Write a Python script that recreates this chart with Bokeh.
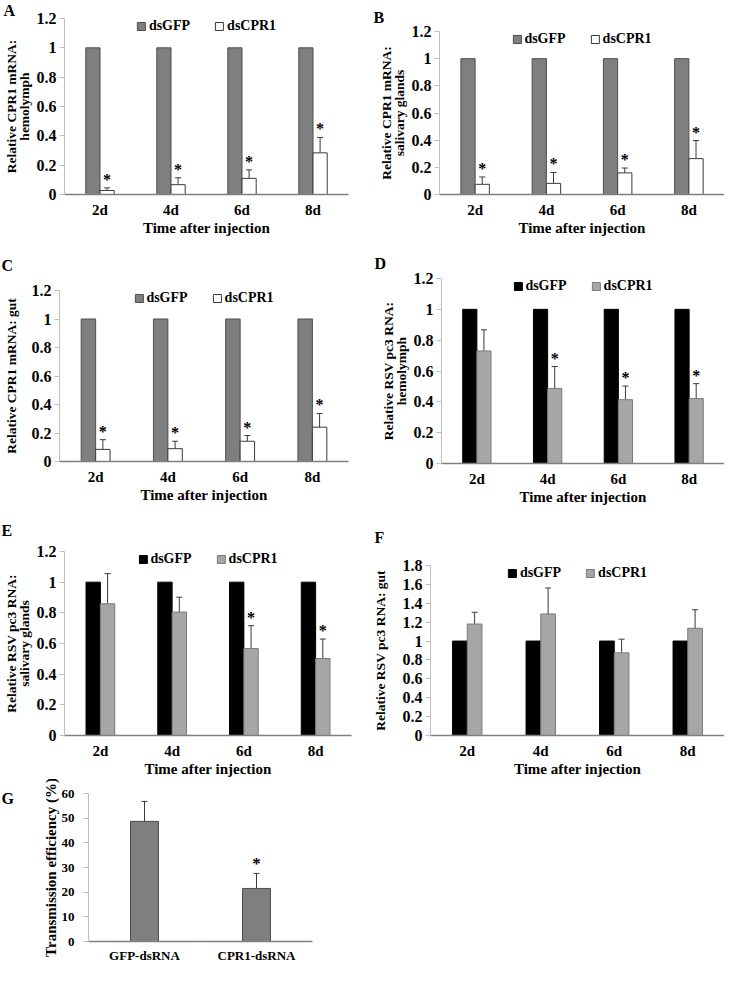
from bokeh.plotting import figure
from bokeh.layouts import column, row
from bokeh.models import (ColumnDataSource, Range1d, FixedTicker,
                          Whisker, Title, CustomJSTickFormatter)
from bokeh.transform import dodge
from bokeh.core.properties import value
from bokeh.embed import file_html
from bokeh.resources import INLINE

# ---------------- data ----------------
days = ["2d", "4d", "6d", "8d"]
series_names = ["dsGFP", "dsCPR1"]
ticks_rel = [0, 0.2, 0.4, 0.6, 0.8, 1, 1.2]
ticks_f = [0, 0.2, 0.4, 0.6, 0.8, 1, 1.2, 1.4, 1.6, 1.8]
ticks_g = [0, 10, 20, 30, 40, 50, 60]

gfp = [1, 1, 1, 1]

A_cpr = [0.027, 0.067, 0.110, 0.284]
A_err = [0.018, 0.047, 0.058, 0.105]
A_sig = ["*", "*", "*", "*"]

B_cpr = [0.075, 0.082, 0.159, 0.264]
B_err = [0.054, 0.080, 0.036, 0.133]
B_sig = ["*", "*", "*", "*"]

C_cpr = [0.085, 0.090, 0.142, 0.241]
C_err = [0.068, 0.052, 0.040, 0.096]
C_sig = ["*", "*", "*", "*"]

D_cpr = [0.730, 0.487, 0.414, 0.421]
D_err = [0.137, 0.142, 0.088, 0.097]
D_sig = ["", "*", "*", "*"]

E_cpr = [0.859, 0.805, 0.567, 0.502]
E_err = [0.197, 0.097, 0.149, 0.127]
E_sig = ["", "", "*", "*"]

F_cpr = [1.180, 1.287, 0.875, 1.135]
F_err = [0.125, 0.275, 0.145, 0.196]
F_sig = ["", "", "", ""]

G_groups = ["GFP-dsRNA", "CPR1-dsRNA"]
G_vals = [48.7, 21.5]
G_err = [8.1, 6.1]
G_sig = ["", "*"]

FONT = "Liberation Serif"
fmt_code = "return String(Math.round(tick*100)/100)"
cat_code = "return labels[Math.floor(tick)]"


def style_axes(p, ticks, cats, tick_size="16px", label_size="13.5px", lab_standoff=2,
               ylab_standoff=3, xlab_size="15px"):
    p.frame_align = False
    p.outline_line_color = None
    p.grid.visible = False
    p.background_fill_color = "white"
    p.border_fill_color = "white"
    ya = p.yaxis[0]
    ya.ticker = FixedTicker(ticks=ticks)
    ya.formatter = CustomJSTickFormatter(code=fmt_code)
    ya.axis_line_color = "#bfbfbf"
    ya.major_tick_line_color = "#bfbfbf"
    ya.minor_tick_line_color = None
    ya.major_tick_out = 5
    ya.major_tick_in = 0
    ya.minor_tick_out = 0
    ya.minor_tick_in = 0
    ya.major_label_standoff = ylab_standoff
    ya.major_label_text_font = FONT
    ya.major_label_text_font_style = "bold"
    ya.major_label_text_font_size = tick_size
    ya.major_label_text_color = "black"
    ya.axis_label_text_font = FONT
    ya.axis_label_text_font_style = "bold"
    ya.axis_label_text_font_size = label_size
    ya.axis_label_text_color = "black"
    ya.axis_label_text_line_height = 0.85
    ya.axis_label_standoff = lab_standoff
    xa = p.xaxis[0]
    xa.ticker = FixedTicker(ticks=[i + 0.5 for i in range(len(cats))])
    xa.formatter = CustomJSTickFormatter(args=dict(labels=cats), code=cat_code)
    xa.axis_line_color = "#7f7f7f"
    xa.axis_line_width = 1.5
    xa.major_tick_line_color = None
    xa.minor_tick_line_color = None
    xa.major_tick_out = 0
    xa.major_tick_in = 0
    xa.minor_tick_out = 0
    xa.minor_tick_in = 0
    xa.major_label_standoff = 7
    xa.major_label_text_font = FONT
    xa.major_label_text_font_style = "bold"
    xa.major_label_text_font_size = xlab_size
    xa.major_label_text_color = "black"
    xa.axis_label_text_font = FONT
    xa.axis_label_text_font_style = "bold"
    xa.axis_label_text_font_size = "15px"
    xa.axis_label_text_color = "black"
    xa.axis_label_standoff = -1


def letter(p, txt, offset, standoff):
    p.title = Title(text=txt, align="left", offset=offset, standoff=standoff,
                    text_font=FONT, text_font_style="bold", text_font_size="16px",
                    text_color="black")


def time_panel(txt, cpr, err, sig, ylabel, ticks, ymax, geom, lpos, dark,
               lab_standoff=2):
    w, h, L, R, T, B = geom
    p = figure(width=w, height=h, x_range=Range1d(0, len(days)),
               y_range=Range1d(0, ymax), output_backend="svg", toolbar_location=None,
               min_border_left=L, min_border_right=R, min_border_top=T,
               min_border_bottom=B)
    src = ColumnDataSource(dict(x=[i + 0.5 for i in range(len(days))], gfp=gfp, cpr=cpr,
                                upper=[c + e for c, e in zip(cpr, err)],
                                lower=[c - e for c, e in zip(cpr, err)],
                                star=sig))
    if dark:
        gfp_fill, gfp_line, cpr_fill, cpr_line = "#000000", "#000000", "#a6a6a6", "#7a7a7a"
    else:
        gfp_fill, gfp_line, cpr_fill, cpr_line = "#7f7f7f", "#4d4d4d", "#ffffff", "#3a3a3a"
    p.vbar(x=dodge("x", -0.1), top="gfp", width=0.2, source=src,
           fill_color=gfp_fill, line_color=gfp_line, line_width=1,
           legend_label=series_names[0])
    p.vbar(x=dodge("x", 0.1), top="cpr", width=0.2, source=src,
           fill_color=cpr_fill, line_color=cpr_line, line_width=1,
           legend_label=series_names[1])
    wh = Whisker(source=src, base=dodge("x", 0.1), upper="upper",
                 lower="lower", line_color="#3a3a3a", line_width=1)
    wh.upper_head.size = 6
    wh.lower_head.size = 6
    wh.upper_head.line_color = "#3a3a3a"
    wh.lower_head.line_color = "#3a3a3a"
    p.add_layout(wh)
    p.text(x=dodge("x", 0.1), y="upper", text="star", source=src,
           text_font=value(FONT), text_font_style="bold", text_font_size="16px",
           text_align="center", text_baseline="bottom", text_color="black")
    p.yaxis.axis_label = ylabel
    p.xaxis.axis_label = "Time after injection"
    style_axes(p, ticks, days, lab_standoff=lab_standoff)
    lg = p.legend[0]
    lg.location = "top_center"
    lg.orientation = "horizontal"
    lg.border_line_color = None
    lg.background_fill_alpha = 0
    lg.padding = 0
    lg.margin = 0
    lg.spacing = 24
    lg.glyph_width = 10
    lg.glyph_height = 10
    lg.label_standoff = 3
    lg.label_height = 14
    lg.label_text_font = FONT
    lg.label_text_font_style = "bold"
    lg.label_text_font_size = "14px"
    lg.label_text_color = "black"
    letter(p, txt, *lpos)
    return p


# geometry: (width, height, left, right, top, bottom)
pA = time_panel("A", A_cpr, A_err, A_sig, "Relative CPR1 mRNA:\nhemolymph", ticks_rel, 1.2,
                (362, 238, 62, 14, 15, 44), (-61, -1), False)
pB = time_panel("B", B_cpr, B_err, B_sig, "Relative CPR1 mRNA:\nsalivary glands", ticks_rel, 1.2,
                (362, 238, 77, 0, 23, 44), (-66, 12), False)
pC = time_panel("C", C_cpr, C_err, C_sig, "Relative CPR1 mRNA: gut", ticks_rel, 1.2,
                (362, 269, 59, 14, 48, 46), (-58, 33), False, lab_standoff=10)
pD = time_panel("D", D_cpr, D_err, D_sig, "Relative RSV pc3 RNA:\nhemolymph", ticks_rel, 1.2,
                (362, 269, 79, 0, 40, 44), (-67, 13), True)
pE = time_panel("E", E_cpr, E_err, E_sig, "Relative RSV pc3 RNA:\nsalivary glands", ticks_rel, 1.2,
                (362, 272, 64, 11, 38, 44), (-63, 25), True)
pF = time_panel("F", F_cpr, F_err, F_sig, "Relative RSV pc3 RNA: gut", ticks_f, 1.8,
                (362, 272, 68, 0, 50, 44), (-56, 39), True, lab_standoff=12)

# ---- panel G ----
pG = figure(width=362, height=186, x_range=Range1d(0, len(G_groups)),
            y_range=Range1d(0, 60), output_backend="svg", toolbar_location=None,
            min_border_left=88, min_border_right=50, min_border_top=14, min_border_bottom=22)
gsrc = ColumnDataSource(dict(x=[i + 0.5 for i in range(len(G_groups))], v=G_vals,
                             upper=[a + b for a, b in zip(G_vals, G_err)],
                             lower=[a - b for a, b in zip(G_vals, G_err)],
                             star=G_sig))
pG.vbar(x="x", top="v", width=0.25, source=gsrc, fill_color="#7f7f7f",
        line_color="#4d4d4d", line_width=1)
wg = Whisker(source=gsrc, base="x", upper="upper", lower="lower",
             line_color="#3a3a3a", line_width=1)
wg.upper_head.size = 6
wg.lower_head.size = 6
wg.upper_head.line_color = "#3a3a3a"
wg.lower_head.line_color = "#3a3a3a"
pG.add_layout(wg)
pG.text(x="x", y="upper", text="star", source=gsrc, text_font=value(FONT),
        text_font_style="bold", text_font_size="17px", text_align="center",
        text_baseline="bottom", text_color="black")
pG.yaxis.axis_label = "Transmission efficiency (%)"
style_axes(pG, ticks_g, G_groups, tick_size="13px", label_size="15px", lab_standoff=0,
           ylab_standoff=9, xlab_size="13px")
pG.xaxis.major_label_standoff = 6
letter(pG, "G", -87, -27)

layout = column(row(pA, pB), row(pC, pD), row(pE, pF), pG)

open("out.html", "w").write(file_html(layout, INLINE))
